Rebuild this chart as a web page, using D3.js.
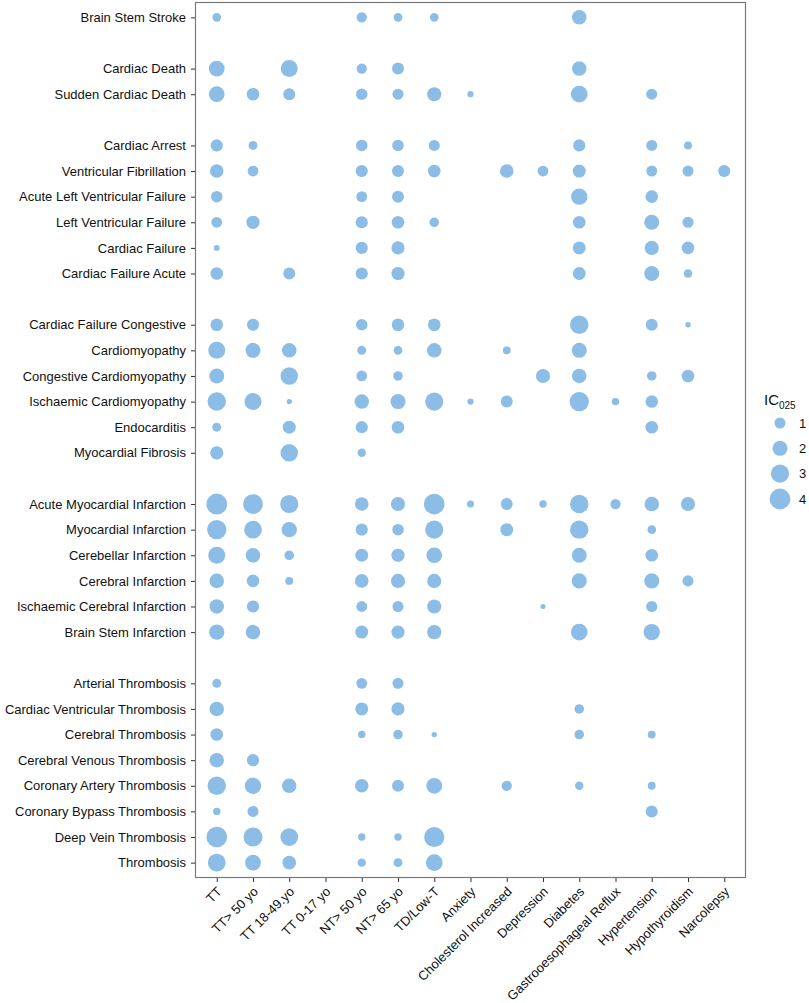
<!DOCTYPE html>
<html>
<head>
<meta charset="utf-8">
<script src="https://cdn.jsdelivr.net/npm/d3@7"></script>
<style>
body{margin:0;background:#fff}
text{font-family:"Liberation Sans",Arial,sans-serif}
</style>
</head>
<body>
<div id="chart"></div>
<script>
// column categories (x axis)
var columns=["TT","TT> 50 yo","TT 18-49.yo","TT 0-17 yo","NT> 50 yo","NT> 65 yo","TD/Low-T",
 "Anxiety","Cholesterol Increased","Depression","Diabetes","Gastrooesophageal Reflux",
 "Hypertension","Hypothyroidism","Narcolepsy"]

// row categories, "" marks an empty spacer row
var rows=["Brain Stem Stroke","",
 "Cardiac Death","Sudden Cardiac Death","",
 "Cardiac Arrest","Ventricular Fibrillation","Acute Left Ventricular Failure","Left Ventricular Failure","Cardiac Failure","Cardiac Failure Acute","",
 "Cardiac Failure Congestive","Cardiomyopathy","Congestive Cardiomyopathy","Ischaemic Cardiomyopathy","Endocarditis","Myocardial Fibrosis","",
 "Acute Myocardial Infarction","Myocardial Infarction","Cerebellar Infarction","Cerebral Infarction","Ischaemic Cerebral Infarction","Brain Stem Infarction","",
 "Arterial Thrombosis","Cardiac Ventricular Thrombosis","Cerebral Thrombosis","Cerebral Venous Thrombosis","Coronary Artery Thrombosis","Coronary Bypass Thrombosis","Deep Vein Thrombosis","Thrombosis"]

// IC025 per row, same order as columns (null = no signal)
var _=null
var ic025={
 "Brain Stem Stroke":[0.55,_,_,_,0.85,0.55,0.55,_,_,_,1.85,_,_,_,_],
 "Cardiac Death":[2.2,_,2.6,_,0.85,1.2,_,_,_,_,1.85,_,_,_,_],
 "Sudden Cardiac Death":[2.2,1.35,1.2,_,1.1,1.0,1.75,0.2,_,_,2.5,_,1.0,_,_],
 "Cardiac Arrest":[1.25,0.6,_,_,1.1,1.1,1.0,_,_,_,1.25,_,1.0,0.42,_],
 "Ventricular Fibrillation":[1.6,0.95,_,_,1.25,1.2,1.35,_,1.6,0.95,1.45,_,1.0,1.0,1.25],
 "Acute Left Ventricular Failure":[1.1,_,_,_,0.95,1.2,_,_,_,_,2.4,_,1.35,_,_],
 "Left Ventricular Failure":[0.95,1.5,_,_,1.25,1.35,0.7,_,_,_,1.35,_,2.0,1.0,_],
 "Cardiac Failure":[0.15,_,_,_,1.25,1.5,_,_,_,_,1.45,_,1.75,1.35,_],
 "Cardiac Failure Acute":[1.35,_,1.2,_,1.25,1.5,_,_,_,_,1.45,_,2.0,0.55,_],
 "Cardiac Failure Congestive":[1.35,1.25,_,_,1.1,1.35,1.35,_,_,_,3.1,_,1.2,0.1,_],
 "Cardiomyopathy":[2.6,2.0,1.85,_,0.6,0.55,1.85,_,0.42,_,2.0,_,_,_,_],
 "Congestive Cardiomyopathy":[2.0,_,2.75,_,0.95,0.7,_,_,_,1.75,1.85,_,0.7,1.35,_],
 "Ischaemic Cardiomyopathy":[3.1,2.6,0.1,_,1.85,2.0,3.0,0.2,1.2,_,3.4,0.35,1.35,_,_],
 "Endocarditis":[0.6,_,1.45,_,1.25,1.35,_,_,_,_,_,_,1.35,_,_],
 "Myocardial Fibrosis":[1.5,_,2.75,_,0.5,_,_,_,_,_,_,_,_,_,_],
 "Acute Myocardial Infarction":[4.0,3.6,3.0,_,1.6,1.75,3.95,0.3,1.2,0.35,3.1,0.85,1.85,1.75,_],
 "Myocardial Infarction":[3.4,2.85,2.1,_,1.25,1.1,3.0,_,1.45,_,3.1,_,0.55,_,_],
 "Cerebellar Infarction":[2.6,1.85,0.7,_,1.45,1.5,2.2,_,_,_,2.0,_,1.35,_,_],
 "Cerebral Infarction":[1.85,1.35,0.42,_,1.6,1.75,1.75,_,_,_,2.0,_,2.0,1.0,_],
 "Ischaemic Cerebral Infarction":[1.85,1.25,_,_,0.95,1.0,1.75,_,_,0.07,_,_,1.0,_,_],
 "Brain Stem Infarction":[2.1,1.85,_,_,1.45,1.5,1.8,_,_,_,2.5,_,2.4,_,_],
 "Arterial Thrombosis":[0.6,_,_,_,0.95,1.0,_,_,_,_,_,_,_,_,_],
 "Cardiac Ventricular Thrombosis":[1.85,_,_,_,1.45,1.5,_,_,_,_,0.7,_,_,_,_],
 "Cerebral Thrombosis":[1.35,_,_,_,0.35,0.7,0.1,_,_,_,0.7,_,0.42,_,_],
 "Cerebral Venous Thrombosis":[1.85,1.25,_,_,_,_,_,_,_,_,_,_,_,_,_],
 "Coronary Artery Thrombosis":[3.1,2.4,1.85,_,1.6,1.2,2.2,_,0.85,_,0.5,_,0.42,_,_],
 "Coronary Bypass Thrombosis":[0.35,1.0,_,_,_,_,_,_,_,_,_,_,1.2,_,_],
 "Deep Vein Thrombosis":[3.95,3.3,2.85,_,0.35,0.35,3.75,_,_,_,_,_,_,_,_],
 "Thrombosis":[2.85,2.2,1.6,_,0.5,0.6,2.5,_,_,_,_,_,_,_,_]
}

var legendBreaks=[1,2,3,4]

var W=809,H=1003
var panel={left:195,right:746,top:2,bottom:878}
var dotColor="#8bbde6"

var svg=d3.select("#chart").append("svg")
    .attr("width",W).attr("height",H)

// spacer rows get unique keys so the point scale keeps them
var rowKeys=rows.map(function(r,i){return r===""?"gap"+i:r})

var x=d3.scalePoint().domain(columns).range([panel.left,panel.right]).padding(0.6)
var y=d3.scalePoint().domain(rowKeys).range([panel.top,panel.bottom]).padding(0.6)

// area grows linearly with IC025
var rArea=d3.scaleLinear().domain([0,4]).range([4.5,108.5])
function radius(v){return Math.sqrt(rArea(v))}

// flatten to points
var points=[]
rows.forEach(function(r){
    if(r==="") return
    ic025[r].forEach(function(v,j){
	if(v!==null) points.push({row:r,col:columns[j],v:v})
    })
})

svg.append("g")
    .selectAll("circle")
    .data(points)
    .join("circle")
    .attr("cx",function(d){return x(d.col)})
    .attr("cy",function(d){return y(d.row)})
    .attr("r",function(d){return radius(d.v)})
    .attr("fill",dotColor)

svg.append("rect")
    .attr("x",panel.left+0.5).attr("y",panel.top+0.5)
    .attr("width",panel.right-panel.left-1).attr("height",panel.bottom-panel.top-1)
    .attr("fill","none").attr("stroke","#7a7a7a").attr("stroke-width",1.2)

// y axis
var yAxis=svg.append("g")
    .attr("transform","translate("+panel.left+",0)")
    .call(d3.axisLeft(y).tickValues(rows.filter(function(r){return r!==""})).tickSize(4).tickPadding(5))
yAxis.select(".domain").remove()
yAxis.selectAll(".tick line").attr("stroke","#333")
yAxis.selectAll(".tick text")
    .attr("font-size",13).attr("fill","#111")
    .attr("font-family","'Liberation Sans',Arial,sans-serif")

// x axis
var xAxis=svg.append("g")
    .attr("transform","translate(0,"+panel.bottom+")")
    .call(d3.axisBottom(x).tickSize(4))
xAxis.select(".domain").remove()
xAxis.selectAll(".tick line").attr("stroke","#333")
xAxis.selectAll(".tick text")
    .attr("font-size",13).attr("fill","#111")
    .attr("font-family","'Liberation Sans',Arial,sans-serif")
    .attr("text-anchor","end")
    .attr("y",0).attr("dy","0.7em")
    .attr("transform","translate(-1,8) rotate(-45)")

// legend
var lg=svg.append("g")
var title=lg.append("text")
    .attr("x",764).attr("y",405)
    .attr("font-size",15).attr("fill","#111")
title.append("tspan").text("IC")
title.append("tspan").attr("font-size",10).attr("dy",4).text("025")

var ly=d3.scalePoint().domain(legendBreaks).range([423,499])
lg.selectAll("circle")
    .data(legendBreaks)
    .join("circle")
    .attr("cx",780)
    .attr("cy",function(d){return ly(d)})
    .attr("r",function(d){return radius(d)})
    .attr("fill",dotColor)
lg.selectAll("text.lab")
    .data(legendBreaks)
    .join("text")
    .attr("class","lab")
    .attr("x",799)
    .attr("y",function(d){return ly(d)})
    .attr("dy","0.35em")
    .attr("font-size",13).attr("fill","#111")
    .text(function(d){return d})
</script>
</body>
</html>
